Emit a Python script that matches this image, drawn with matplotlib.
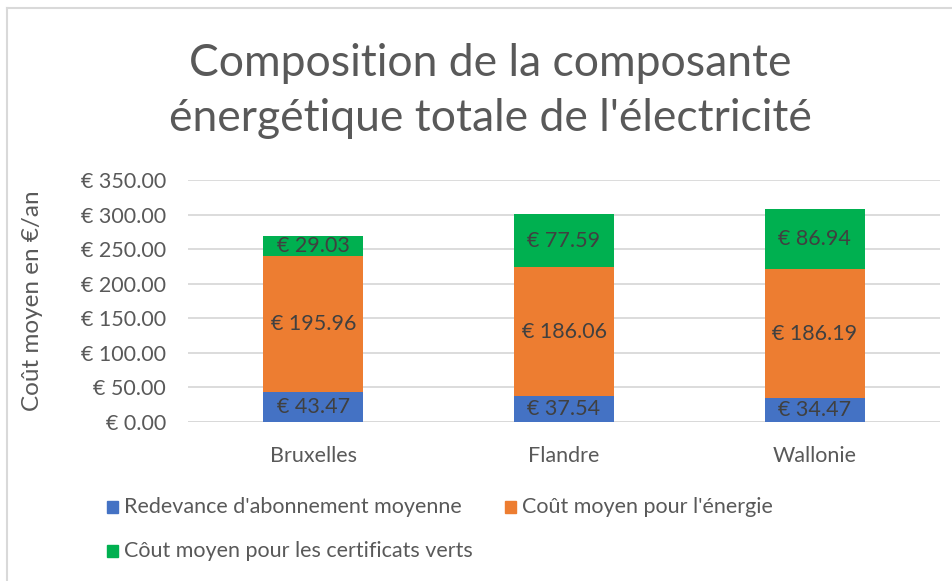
import matplotlib
matplotlib.use("Agg")
import matplotlib.pyplot as plt
from matplotlib.patches import Rectangle
from matplotlib.lines import Line2D

plt.rcParams['font.family'] = ['Lato', 'DejaVu Sans']

regions = ['Bruxelles', 'Flandre', 'Wallonie']
abonnement = [43.47, 37.54, 34.47]
energie = [195.96, 186.06, 186.19]
certificats = [29.03, 77.59, 86.94]
series_names = ["Redevance d'abonnement moyenne",
                "Coût moyen pour l'énergie",
                "Côut moyen pour les certificats verts"]
colors = ['#4472C4', '#ED7D31', '#00B050']
yticks = [0, 50, 100, 150, 200, 250, 300, 350]

GRAY = '#595959'
W, H = 952, 581
fig = plt.figure(figsize=(W / 100, H / 100), dpi=100)
ax = fig.add_axes([188 / W, 1 - 422 / H, 752 / W, 242 / H])

x = range(len(regions))
bottom = [0] * len(regions)
for vals, col in zip([abonnement, energie, certificats], colors):
    bars = ax.bar(x, vals, width=0.4, bottom=bottom, color=col, zorder=3)
    for b, v, b0 in zip(bars, vals, bottom):
        ax.text(b.get_x() + b.get_width() / 2, b0 + v / 2, f'€ {v:.2f}',
                ha='center', va='center', fontsize=15.5, color='#404040', zorder=4)
    bottom = [a + b for a, b in zip(bottom, vals)]

ax.set_xlim(-0.5, 2.5)
ax.set_ylim(0, 350)
ax.set_yticks(yticks)
ax.set_yticklabels([f'€ {t:.2f}' for t in yticks], fontsize=15.5, color=GRAY)
ax.set_xticks(list(x))
ax.set_xticklabels(regions, fontsize=15.5, color=GRAY)
ax.tick_params(axis='y', length=0, pad=16)
ax.tick_params(axis='x', length=0, pad=17)
ax.grid(axis='y', color='#d9d9d9', lw=1.3, zorder=0)
for s in ax.spines.values():
    s.set_visible(False)
ax.axhline(0, color='#d9d9d9', lw=1.3, zorder=1)

ax.set_ylabel('Coût moyen en €/an', fontsize=17.5, color=GRAY)
ax.yaxis.set_label_coords(-145 / 752, 0.5)

fig.text(490 / W, 1 - 91 / H,
         "Composition de la composante\nénergétique totale de l'électricité",
         ha='center', va='center', fontsize=32, color=GRAY, linespacing=1.45)

# legend drawn by hand to keep Excel-like layout
leg = [(107, 507, colors[0], series_names[0]),
       (505, 507, colors[1], series_names[1]),
       (107, 551, colors[2], series_names[2])]
for lx, ly, col, name in leg:
    fig.add_artist(Rectangle((lx / W, 1 - (ly + 6) / H), 11 / W, 12 / H,
                             transform=fig.transFigure, color=col))
    fig.text((lx + 17) / W, 1 - ly / H, name, ha='left', va='center',
             fontsize=15.5, color=GRAY)

# chart frame (only top and left edges visible)
fig.add_artist(Line2D([7 / W, 7 / W], [0, 1 - 8 / H], transform=fig.transFigure,
                      color='#d9d9d9', lw=1.5))
fig.add_artist(Line2D([7 / W, 1], [1 - 8 / H, 1 - 8 / H], transform=fig.transFigure,
                      color='#d9d9d9', lw=1.5))

fig.savefig('out.png', dpi=100)
